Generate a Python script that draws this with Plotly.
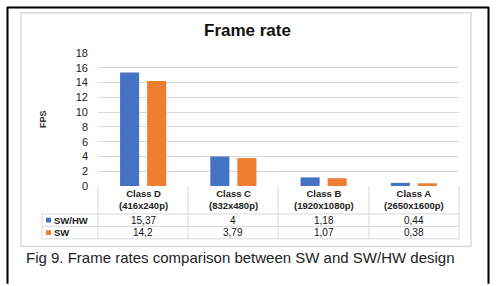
import plotly.graph_objects as go

categories = ["Class D", "Class C", "Class B", "Class A"]
resolutions = ["(416x240p)", "(832x480p)", "(1920x1080p)", "(2650x1600p)"]
series_names = ["SW/HW", "SW"]
sw_hw = [15.37, 4, 1.18, 0.44]
sw = [14.2, 3.79, 1.07, 0.38]
y_ticks = [0, 2, 4, 6, 8, 10, 12, 14, 16, 18]
title_text = "Frame rate"
y_title = "FPS"
caption = "Fig 9. Frame rates comparison between SW and SW/HW design"

colors = ["#4472C4", "#ED7D31"]
W, H = 500, 286


def px(x):
    return x / W


def py(y):
    return 1 - y / H


def fmt(v):
    return f"{v:g}".replace(".", ",")


fig = go.Figure()
for name, vals, c in zip(series_names, [sw_hw, sw], colors):
    fig.add_trace(go.Bar(x=categories, y=vals, name=name, marker=dict(color=c, line=dict(width=0))))

FONT = "Liberation Sans, Arial, sans-serif"
fig.update_layout(
    width=W, height=H,
    margin=dict(l=0, r=0, t=0, b=0),
    paper_bgcolor="white", plot_bgcolor="white",
    showlegend=False,
    barmode="group", bargap=0.4, bargroupgap=0.296,
    font=dict(family=FONT, color="#333333"),
    xaxis=dict(domain=[px(98), px(459)], showticklabels=False, showgrid=False,
               zeroline=False, showline=False, ticks=""),
    yaxis=dict(domain=[py(188), py(49)], range=[0, 18], tickvals=y_ticks,
               showgrid=True, gridcolor="#d9d9d9", gridwidth=1, zeroline=False,
               showline=False, ticks="", ticklabelstandoff=9,
               tickfont=dict(size=11, color="#222222", family=FONT)),
)

shapes = []
# outer black frame
shapes.append(dict(type="line", xref="paper", yref="paper", x0=px(7.5), x1=px(7.5), y0=py(1), y1=py(290), line=dict(color="black", width=2)))
shapes.append(dict(type="line", xref="paper", yref="paper", x0=px(7), x1=px(489), y0=py(1.5), y1=py(1.5), line=dict(color="black", width=2)))
shapes.append(dict(type="line", xref="paper", yref="paper", x0=px(488.5), x1=px(488.5), y0=py(1), y1=py(290), line=dict(color="black", width=2)))
# inner chart area border
shapes.append(dict(type="rect", xref="paper", yref="paper", x0=px(21), x1=px(471), y0=py(7), y1=py(251), line=dict(color="#d9d9d9", width=1.5)))

# table grid
grid = dict(color="#d9d9d9", width=1)
for yy in [217, 230, 243]:
    shapes.append(dict(type="line", xref="paper", yref="paper", x0=px(42), x1=px(459), y0=py(yy), y1=py(yy), line=grid))
for xx in [98, 188, 278, 369, 459]:
    shapes.append(dict(type="line", xref="paper", yref="paper", x0=px(xx), x1=px(xx), y0=py(188), y1=py(243), line=grid))
shapes.append(dict(type="line", xref="paper", yref="paper", x0=px(42), x1=px(42), y0=py(217), y1=py(243), line=grid))

row_y = [223.5, 236.5]
for ry, c in zip(row_y, colors):
    shapes.append(dict(type="rect", xref="paper", yref="paper", x0=px(46), x1=px(51), y0=py(ry - 2.5), y1=py(ry + 2.5), line=dict(width=0), fillcolor=c))

fig.update_layout(shapes=shapes)

C = dict(xanchor="center", yanchor="middle", showarrow=False, xref="paper", yref="paper")
ann = []
ann.append(dict(text=f"<b>{title_text}</b>", x=px(247), y=py(26),
                font=dict(size=17, color="#111111", family=FONT), **C))
ann.append(dict(text=f"<b>{y_title}</b>", x=px(43), y=py(118), textangle=-90,
                font=dict(size=9, color="#333333", family=FONT), **C))
for cat, res in zip(categories, resolutions):
    ann.append(dict(text=f"<b>{cat}<br>{res}</b>", x=cat, xref="x", y=py(202), yref="paper",
                    xanchor="center", yanchor="middle", showarrow=False,
                    font=dict(size=9.5, color="#222222", family=FONT)))
for ry, name, vals in zip(row_y, series_names, [sw_hw, sw]):
    ann.append(dict(text=f"<b>{name}</b>", x=px(52), y=py(ry), xref="paper", yref="paper",
                    xanchor="left", yanchor="middle", showarrow=False,
                    font=dict(size=9.5, color="#222222", family=FONT)))
    for cat, v in zip(categories, vals):
        ann.append(dict(text=fmt(v), x=cat, xref="x", y=py(ry), yref="paper",
                        xanchor="center", yanchor="middle", showarrow=False,
                        font=dict(size=10, color="#111111", family=FONT)))
ann.append(dict(text=caption, x=px(240), y=py(263),
                font=dict(size=15, color="#222222", family=FONT), **C))
fig.update_layout(annotations=ann)

fig.write_html("out.html")
